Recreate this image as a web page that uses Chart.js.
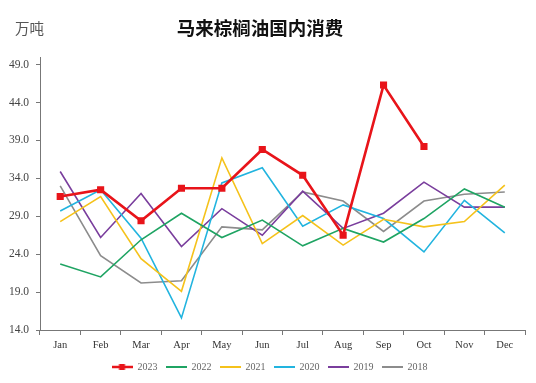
<!DOCTYPE html>
<html><head><meta charset="utf-8">
<script src="https://cdn.jsdelivr.net/npm/chart.js@4.4.0/dist/chart.umd.min.js"></script>
<style>html,body{margin:0;padding:0;background:#fff}#wrap{width:536px;height:383px}</style>
</head><body><div id="wrap"><canvas id="c" width="536" height="383"></canvas></div>
<script>
const months = ['Jan','Feb','Mar','Apr','May','Jun','Jul','Aug','Sep','Oct','Nov','Dec'];
const yTicks = [14,19,24,29,34,39,44,49];
const s2023 = [31.6,32.5,28.4,32.7,32.7,37.8,34.4,26.5,46.3,38.2,null,null];
const s2022 = [22.7,21.0,25.9,29.4,26.2,28.5,25.1,27.4,25.6,28.7,32.6,30.2];
const s2021 = [28.3,31.6,23.4,19.1,36.7,25.4,29.1,25.2,28.6,27.6,28.3,33.1];
const s2020 = [29.7,32.5,26.1,15.6,33.4,35.4,27.7,30.5,28.7,24.3,31.1,26.8];
const s2019 = [34.9,26.2,32.0,25.0,30.0,26.5,32.3,27.4,29.4,33.5,30.2,30.2];
const s2018 = [33.0,23.8,20.2,20.5,27.6,27.2,32.2,31.0,27.0,31.0,31.9,32.2];
const seriesNames = ['2023','2022','2021','2020','2019','2018'];
const colors = ['#e8141a','#1fa463','#f5c21b','#22b4df','#7a3e9d','#8c8c8c'];
const allSeries = [s2023,s2022,s2021,s2020,s2019,s2018];

const serif = "'Liberation Serif','DejaVu Serif',serif";

function legendIcon(color, withSquare){
  const c = document.createElement('canvas');
  c.width = 21; c.height = 8;
  const g = c.getContext('2d');
  g.strokeStyle = color; g.lineWidth = withSquare ? 2.5 : 2;
  g.beginPath(); g.moveTo(0,4); g.lineTo(21,4); g.stroke();
  if (withSquare){ g.fillStyle = color; g.fillRect(7.5,1,6,6); }
  return c;
}
const icons = seriesNames.map((n,i)=>legendIcon(colors[i], i===0));

const datasets = allSeries.map((d,i)=>({
  label: seriesNames[i],
  data: d,
  borderColor: colors[i],
  backgroundColor: colors[i],
  borderWidth: i===0 ? 2.6 : 1.6,
  pointStyle: 'rect',
  pointRadius: i===0 ? 3.2 : 0,
  pointHoverRadius: i===0 ? 3.2 : 0,
  tension: 0,
  spanGaps: false,
  order: i===0 ? 0 : i
}));

const titlePlugin = {
  id: 'titles',
  afterLayout(chart){
    if (chart.legend){ chart.legend.left += 7; chart.legend.right += 7; }
  },
  afterDraw(chart){
    const ctx = chart.ctx;
    ctx.save();
    ctx.textBaseline = 'middle';
    ctx.fillStyle = '#111';
    ctx.font = "bold 18.5px 'Noto Sans CJK SC'";
    ctx.textAlign = 'center';
    ctx.fillText('马来棕榈油国内消费', 260, 28);
    ctx.fillStyle = '#555';
    ctx.font = "14.5px 'Noto Sans CJK SC'";
    ctx.textAlign = 'left';
    ctx.fillText('万吨', 15, 28);
    ctx.restore();
  }
};

new Chart(document.getElementById('c'), {
  type: 'line',
  data: { labels: months, datasets },
  options: {
    responsive: false,
    animation: false,
    layout: { padding: { top: 57, right: 11, left: 0, bottom: 1 } },
    plugins: {
      tooltip: { enabled: false },
      title: { display: false },
      legend: {
        position: 'bottom',
        labels: {
          usePointStyle: true,
          pointStyleWidth: 21,
          boxHeight: 8,
          padding: 8,
          color: '#666',
          font: { family: serif, size: 10 },
          generateLabels(chart){
            return chart.data.datasets.map((ds,i)=>({
              text: ds.label,
              fillStyle: ds.borderColor,
              strokeStyle: ds.borderColor,
              lineWidth: 0,
              pointStyle: icons[i],
              fontColor: '#666',
              datasetIndex: i,
              hidden: false
            }));
          }
        }
      }
    },
    scales: {
      x: {
        offset: true,
        afterFit(s){ s.height = 24; },
        grid: { offset: true, drawOnChartArea: false, drawTicks: true, tickLength: 5, color: '#777' },
        border: { color: '#777', width: 1 },
        ticks: { color: '#333', font: { family: serif, size: 10.5 }, padding: 4, maxRotation: 0, autoSkip: false }
      },
      y: {
        min: 14, max: 50,
        afterFit(s){ s.width = 40; },
        afterBuildTicks(s){ s.ticks = yTicks.map(v=>({value:v})); },
        grid: { drawOnChartArea: false, drawTicks: true, tickLength: 4, color: '#777' },
        border: { color: '#777', width: 1 },
        ticks: { color: '#444', font: { family: serif, size: 11.5 }, padding: 7, callback: v => Number(v).toFixed(1) }
      }
    }
  },
  plugins: [titlePlugin]
});
</script></body></html>
